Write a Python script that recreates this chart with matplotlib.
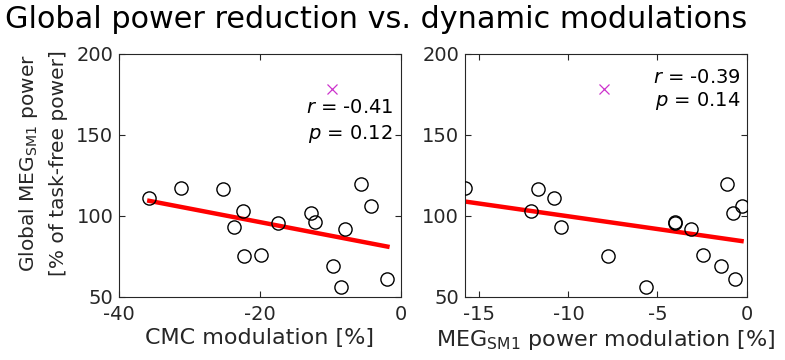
import numpy as np
import matplotlib
matplotlib.use("Agg")
import matplotlib.pyplot as plt

# global MEG_SM1 power (% of task-free power), one value per subject
power = [111.0, 117.4, 116.4, 103.2, 93.2, 75.1, 75.7, 95.8,
         101.8, 96.4, 91.7, 68.9, 56.4, 119.5, 106.3, 61.3]
# CMC modulation (%) for the same subjects
cmc_mod = [-35.7, -31.2, -25.2, -22.4, -23.7, -22.3, -19.9, -17.4,
           -12.8, -12.2, -7.9, -9.6, -8.5, -5.7, -4.2, -1.9]
# MEG_SM1 power modulation (%) for the same subjects
meg_mod = [-10.79, -15.8, -11.72, -12.12, -10.39, -7.77, -2.43, -4.01,
           -0.75, -4.04, -3.13, -1.42, -5.62, -1.10, -0.28, -0.62]

# excluded outlier (x in each panel, y)
outlier_cmc = -9.8
outlier_meg = -8.0
outlier_power = 178.4

stats = [("-0.41", "0.12"), ("-0.39", "0.14")]

txt = "#262626"
plt.rcParams['font.family'] = 'DejaVu Sans'
plt.rcParams['mathtext.fontset'] = 'dejavusans'
plt.rcParams['axes.unicode_minus'] = False

fig = plt.figure(figsize=(7.85, 3.6), dpi=100)
ax1 = fig.add_axes([0.1516, 0.175, 0.359, 0.675])
ax2 = fig.add_axes([0.592, 0.175, 0.359, 0.675])

panels = [
    (ax1, cmc_mod, outlier_cmc, (-40, 0), [-40, -20, 0], "CMC modulation [%]", stats[0], (0.972, 0.778, 0.671)),
    (ax2, meg_mod, outlier_meg, (-15.82, 0), [-15, -10, -5, 0], "MEG$_{\\mathrm{SM1}}$ power modulation [%]", stats[1], (0.979, 0.905, 0.807)),
]

for ax, xs, ox, xlim, xt, xlabel, (r, p), (tx, ty1, ty2) in panels:
    xs = np.array(xs)
    ys = np.array(power)
    k, b = np.polyfit(xs, ys, 1)
    xl = np.array([xs.min(), xs.max()])
    ax.plot(xl, k * xl + b, color='red', lw=3.2, zorder=2)
    ax.plot(xs, ys, 'o', mfc='none', mec='black', ms=9.5, mew=1.0, zorder=3)
    ax.plot([ox], [outlier_power], 'x', color='#cc33cc', ms=7, mew=0.9)
    ax.set_xlim(*xlim)
    ax.set_ylim(50, 200)
    ax.set_xticks(xt)
    ax.set_yticks([50, 100, 150, 200])
    ax.tick_params(direction='in', top=True, right=True, labelsize=14,
                   colors=txt, length=4)
    ax.tick_params(axis='x', pad=5.5)
    ax.tick_params(axis='y', pad=4)
    for s in ax.spines.values():
        s.set_color(txt)
        s.set_linewidth(0.8)
    ax.set_xlabel(xlabel, fontsize=16, color=txt, labelpad=3)
    ax.text(tx, ty1, "$r$ = " + r, transform=ax.transAxes, ha='right',
            va='center', fontsize=14, color='black')
    ax.text(tx, ty2, "$p$ = " + p, transform=ax.transAxes, ha='right',
            va='center', fontsize=14, color='black')

ax1.set_ylabel("Global MEG$_{\\mathrm{SM1}}$ power\n[% of task-free power]",
               fontsize=14.5, color=txt, linespacing=1.6)
ax1.yaxis.set_label_coords(-0.18, 0.551)

fig.text(0.006, 0.945, "Global power reduction vs. dynamic modulations",
         fontsize=21.8, color='black', ha='left', va='center')

fig.savefig("out.png", dpi=100)
